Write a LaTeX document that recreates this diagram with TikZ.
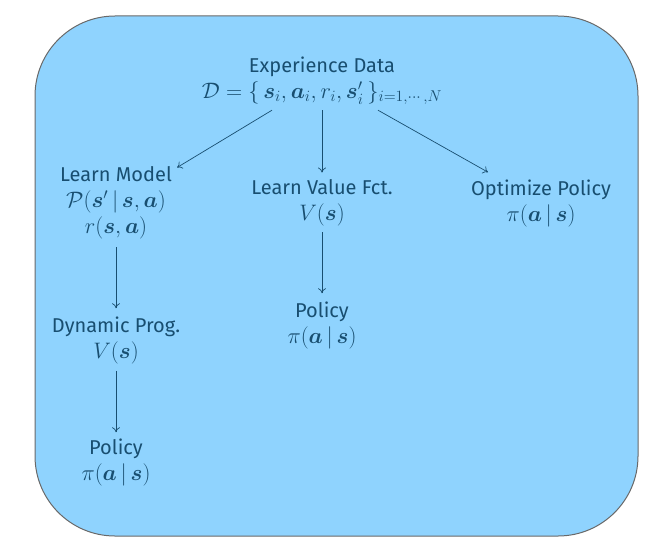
\documentclass[tikz,border=0pt]{standalone}
\usepackage{fix-cm}
\usepackage{amsmath,bm}
\usepackage{fontspec}
\setmainfont{Fira Sans}
\usetikzlibrary{calc,arrows.meta}
\definecolor{txt}{RGB}{24,78,112}
\definecolor{boxfill}{RGB}{143,211,254}
\definecolor{boxline}{RGB}{105,105,105}
\newcommand{\mth}[1]{{\fontsize{22.4}{26}\selectfont$#1$}}
\tikzset{
  blk/.style={align=center, text=txt, inner sep=0pt, font=\fontsize{20}{26}\selectfont},
  conn/.style={draw=txt, line width=0.7pt, -{To[length=5pt,width=8pt]}}
}
\begin{document}
\begin{tikzpicture}[x=1pt,y=-1pt]
\useasboundingbox (0,0) rectangle (660,551);
\draw[fill=boxfill, draw=boxline, line width=1pt, rounded corners=80pt] (35,16) rectangle (638,536);

\node[blk] (exp) at (322,81) {Experience Data\\ \mth{\mathcal{D} = \{\, \bm{s}_i, \bm{a}_i, r_i, \bm{s}'_i \,\}_{i=1,\cdots,N}}};
\node[blk] (lm) at (116,203) {Learn Model\\ \mth{\mathcal{P}(\bm{s}' \,|\, \bm{s}, \bm{a})}\\ \mth{r(\bm{s}, \bm{a})}};
\node[blk] (dp) at (116,340) {Dynamic Prog.\\ \mth{V(\bm{s})}};
\node[blk] (p1) at (116,462) {Policy\\ \mth{\pi(\bm{a} \,|\, \bm{s})}};
\node[blk] (lv) at (322,203) {Learn Value Fct.\\ \mth{V(\bm{s})}};
\node[blk] (p2) at (322,325) {Policy\\ \mth{\pi(\bm{a} \,|\, \bm{s})}};
\node[blk] (op) at (541,203) {Optimize Policy\\ \mth{\pi(\bm{a} \,|\, \bm{s})}};

\draw[conn] ($(exp.south)+(-50,5)$) -- ($(lm.north east)+(5,1)$);
\draw[conn] ($(exp.south)+(0,5)$) -- ($(lv.north)+(0,-7)$);
\draw[conn] ($(exp.south)+(56,5)$) -- ($(op.north)+(-53,-7)$);
\draw[conn] ($(lm.south)+(0,8)$) -- ($(dp.north)+(0,-8)$);
\draw[conn] ($(dp.south)+(0,7)$) -- ($(p1.north)+(0,-6)$);
\draw[conn] ($(lv.south)+(0,6)$) -- ($(p2.north)+(0,-8)$);
\end{tikzpicture}
\end{document}
